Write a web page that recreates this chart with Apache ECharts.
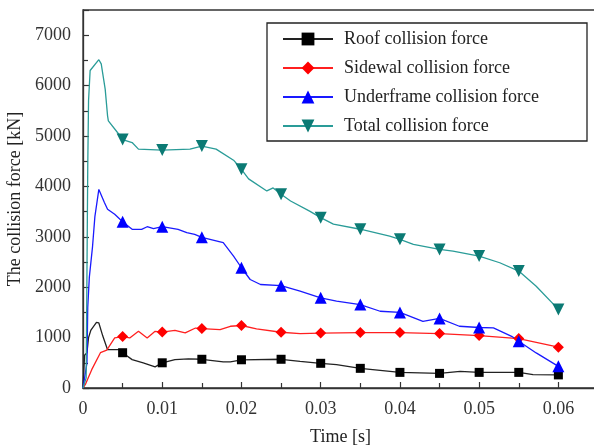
<!DOCTYPE html>
<html>
<head>
<meta charset="utf-8">
<script src="https://cdn.jsdelivr.net/npm/echarts@6/dist/echarts.min.js"></script>
<style>
html,body{margin:0;padding:0;background:#fff;}
#chart{width:594px;height:448px;}
</style>
</head>
<body>
<div id="chart"></div>
<script>
// ---- Data (time [s], force [kN]) ----
const seriesNames = ['Roof collision force', 'Sidewal collision force', 'Underframe collision force', 'Total collision force'];
const xTickLabels = ['0', '0.01', '0.02', '0.03', '0.04', '0.05', '0.06'];
const yTickLabels = ['0', '1000', '2000', '3000', '4000', '5000', '6000', '7000'];
const markerTimes = [0.005, 0.01, 0.015, 0.02, 0.025, 0.03, 0.035, 0.04, 0.045, 0.05, 0.055, 0.06];

const roof = [
  [0, 0], [0.0002, 650], [0.0005, 700], [0.0007, 1000], [0.001, 1150], [0.0017, 1300], [0.002, 1290],
  [0.0025, 1030], [0.0031, 760], [0.0046, 760], [0.005, 700], [0.0062, 563], [0.0076, 497],
  [0.0091, 418], [0.01, 500], [0.0116, 563], [0.0133, 577], [0.015, 570], [0.0177, 520],
  [0.0186, 520], [0.02, 560], [0.025, 570], [0.0274, 530], [0.03, 490], [0.032, 463],
  [0.035, 390], [0.0375, 350], [0.04, 310], [0.045, 290], [0.0476, 330], [0.05, 310],
  [0.055, 310], [0.0568, 264], [0.06, 260]
];
const sidewall = [
  [0, 0], [0.0003, 70], [0.0011, 364], [0.0022, 700], [0.003, 750], [0.004, 994], [0.005, 1020],
  [0.0059, 994], [0.007, 1125], [0.0081, 994], [0.0091, 1125], [0.01, 1110], [0.0116, 1145],
  [0.0129, 1093], [0.0142, 1190], [0.015, 1180], [0.0173, 1160], [0.0186, 1225], [0.02, 1240],
  [0.0219, 1173], [0.025, 1106], [0.0274, 1080], [0.03, 1090], [0.035, 1100], [0.04, 1100],
  [0.045, 1080], [0.05, 1040], [0.055, 980], [0.06, 810]
];
const underframe = [
  [0, 0], [0.0005, 500], [0.0006, 1600], [0.0008, 2200], [0.0012, 2800], [0.0015, 3400],
  [0.002, 3940], [0.0027, 3680], [0.0031, 3545], [0.004, 3446], [0.005, 3300], [0.0062, 3148],
  [0.0074, 3148], [0.0081, 3200], [0.0089, 3160], [0.01, 3200], [0.012, 3148], [0.0131, 3082],
  [0.0141, 3048], [0.015, 2990], [0.0177, 2883], [0.019, 2617], [0.02, 2386], [0.0211, 2153],
  [0.0224, 2054], [0.025, 2030], [0.0274, 1920], [0.03, 1790], [0.032, 1722], [0.035, 1656],
  [0.0375, 1523], [0.04, 1500], [0.0429, 1324], [0.045, 1380], [0.0475, 1225], [0.05, 1200],
  [0.0518, 1193], [0.0541, 1026], [0.055, 927], [0.0572, 696], [0.06, 430]
];
const total = [
  [0, 0], [0.0004, 200], [0.0006, 4400], [0.0007, 5700], [0.0009, 6300], [0.00105, 6330],
  [0.002, 6514], [0.0023, 6430], [0.0028, 5930], [0.0031, 5400], [0.0032, 5300], [0.0045, 5040],
  [0.005, 4930], [0.0062, 4870], [0.007, 4740], [0.0072, 4720], [0.01, 4720], [0.0135, 4740],
  [0.015, 4800], [0.0168, 4740], [0.019, 4520], [0.02, 4340], [0.0209, 4150], [0.0232, 3910],
  [0.024, 3970], [0.025, 3845], [0.0262, 3710], [0.0286, 3510], [0.03, 3380], [0.0316, 3250],
  [0.035, 3150], [0.0387, 3015], [0.04, 2950], [0.0417, 2850], [0.045, 2750], [0.0467, 2716],
  [0.05, 2617], [0.0526, 2485], [0.055, 2320], [0.0572, 2020], [0.06, 1560]
];

const FONT = "'Liberation Serif', 'DejaVu Serif', serif";
function isMarker(t) {
  return markerTimes.some(m => Math.abs(m - t) < 1e-7);
}
function sizeFn(size) {
  return function (val) { return isMarker(val[0]) ? size : 0; };
}
function makeSeries(name, data, color, markColor, symbol, size, rotate) {
  return {
    name: name,
    type: 'line',
    data: data,
    symbol: symbol,
    symbolSize: sizeFn(size),
    symbolRotate: rotate || 0,
    showSymbol: true,
    showAllSymbol: true,
    animation: false,
    lineStyle: { color: color, width: 1.3 },
    itemStyle: { color: markColor, borderWidth: 0 },
    emphasis: { disabled: true },
    z: 3
  };
}

const chart = echarts.init(document.getElementById('chart'), null, { renderer: 'canvas' });
chart.setOption({
  backgroundColor: '#ffffff',
  animation: false,
  grid: {
    left: 83, top: 10, right: -4, bottom: 60,
    outerBoundsMode: 'none',
    containLabel: false,
    show: true, borderColor: '#333', borderWidth: 1.3, backgroundColor: 'transparent'
  },
  graphic: [{
    type: 'rect',
    shape: { x: 267, y: 23, width: 320, height: 118 },
    style: { fill: '#fff', stroke: '#222', lineWidth: 1.3 },
    z: 10
  }],
  legend: {
    data: seriesNames,
    orient: 'vertical',
    left: 282,
    top: 30,
    padding: 0,
    itemWidth: 50,
    itemHeight: 16,
    itemGap: 11,
    z: 20,
    textStyle: { fontFamily: FONT, fontSize: 18, color: '#222', padding: [0, 0, 0, 6] }
  },
  xAxis: {
    type: 'value',
    min: 0, max: 0.065, interval: 0.01,
    name: 'Time [s]',
    nameLocation: 'middle',
    nameGap: 40,
    nameTextStyle: { fontFamily: FONT, fontSize: 18, color: '#222' },
    axisLine: { show: true, onZero: false, lineStyle: { color: '#333', width: 1.3 } },
    axisTick: { show: true, inside: true, length: 6, lineStyle: { color: '#333', width: 1.2 } },
    minorTick: { show: true, splitNumber: 2, length: 5, lineStyle: { color: '#333', width: 1.2 } },
    splitLine: { show: false },
    axisLabel: {
      fontFamily: FONT, fontSize: 18, color: '#333', margin: 12, showMaxLabel: false,
      formatter: function (v) {
        const i = Math.round(v / 0.01);
        return xTickLabels[i] !== undefined && Math.abs(v - i * 0.01) < 1e-9 ? xTickLabels[i] : '';
      }
    }
  },
  yAxis: {
    type: 'value',
    min: 0, max: 7500, interval: 1000,
    name: 'The collision force [kN]',
    nameLocation: 'middle',
    nameGap: 52,
    nameTextStyle: { fontFamily: FONT, fontSize: 18, color: '#222' },
    axisLine: { show: true, onZero: false, lineStyle: { color: '#333', width: 1.3 } },
    axisTick: { show: true, inside: true, length: 6, lineStyle: { color: '#333', width: 1.2 } },
    minorTick: { show: true, splitNumber: 2, length: 5, lineStyle: { color: '#333', width: 1.2 } },
    splitLine: { show: false },
    axisLabel: {
      fontFamily: FONT, fontSize: 18, color: '#333', margin: 12, showMaxLabel: false,
      formatter: function (v) {
        const i = Math.round(v / 1000);
        return yTickLabels[i] !== undefined && v === i * 1000 ? yTickLabels[i] : '';
      }
    }
  },
  series: [
    makeSeries(seriesNames[0], roof, '#222222', '#000000', 'rect', 9),
    makeSeries(seriesNames[1], sidewall, '#ff2020', '#ff0000', 'diamond', 11),
    makeSeries(seriesNames[2], underframe, '#1a1aff', '#0000ff', 'triangle', 12),
    makeSeries(seriesNames[3], total, '#2a9c98', '#0b7a74', 'triangle', 12, 180)
  ]
});
</script>
</body>
</html>
